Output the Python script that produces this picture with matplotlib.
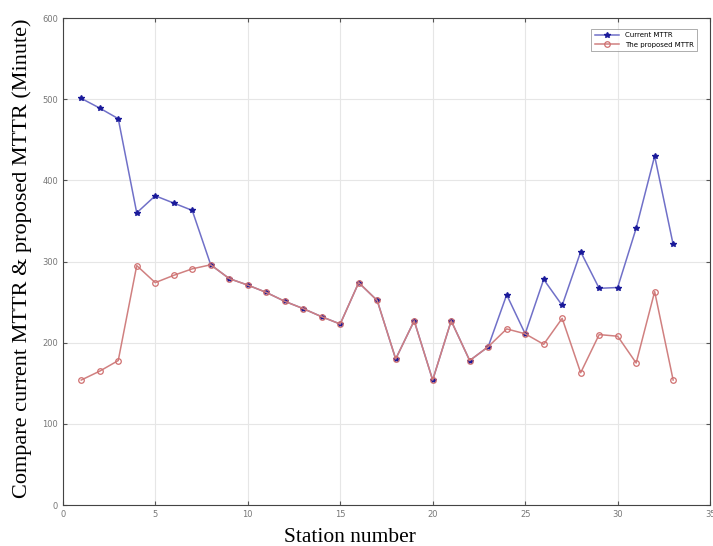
import numpy as np
import matplotlib.pyplot as plt

# MTTR per station (minutes)
stations = list(range(1, 34))
current_mttr = [501, 489, 476, 360, 381, 372, 363, 296, 279, 271, 262, 251, 242, 232, 223,
                274, 252, 180, 227, 154, 227, 178, 195, 259, 211, 278, 246, 312, 267, 268,
                341, 430, 321]
proposed_mttr = [154, 165, 178, 295, 274, 283, 291, 296, 279, 271, 262, 251, 242, 232, 223,
                 274, 252, 180, 227, 154, 227, 178, 195, 217, 211, 198, 230, 163, 210, 208,
                 175, 263, 154]

fig = plt.figure(figsize=(7.13, 5.46), dpi=100)
ax = fig.add_axes([0.088, 0.075, 0.908, 0.892])

ax.plot(stations, current_mttr, color='#7070c8', lw=1.1, marker='*', ms=4,
        mec='#1a1a9a', mfc='#1a1a9a', label='Current MTTR', zorder=2)
ax.plot(stations, proposed_mttr, color='#d08080', lw=1.1, marker='o', ms=4,
        mec='#d07070', mfc='none', mew=0.9, label='The proposed MTTR', zorder=3)

ax.set_xlim(0, 35)
ax.set_ylim(0, 600)
ax.set_xticks(np.arange(0, 36, 5))
ax.set_yticks(np.arange(0, 601, 100))
ax.grid(True, color='#e6e6e6', lw=0.8)
ax.set_axisbelow(True)
ax.tick_params(direction='in', top=True, right=True, labelsize=6, labelcolor='#777777',
               color='#555555', length=3)
for s in ax.spines.values():
    s.set_color('#444444')
    s.set_linewidth(0.8)

ax.set_xlabel('Station number', family='Liberation Serif', fontsize=15.5)
ax.xaxis.set_label_coords(0.444, -0.048)
ax.set_ylabel('Compare current MTTR & proposed MTTR (Minute)', family='Liberation Serif',
              fontsize=16)
ax.yaxis.set_label_coords(-0.048, 0.507)

leg = ax.legend(loc='upper right', fontsize=5, frameon=True, fancybox=False,
                edgecolor='#888888', handlelength=3.5, borderpad=0.5,
                bbox_to_anchor=(0.985, 0.985))
leg.get_frame().set_linewidth(0.6)

fig.savefig('out.png', dpi=100)
